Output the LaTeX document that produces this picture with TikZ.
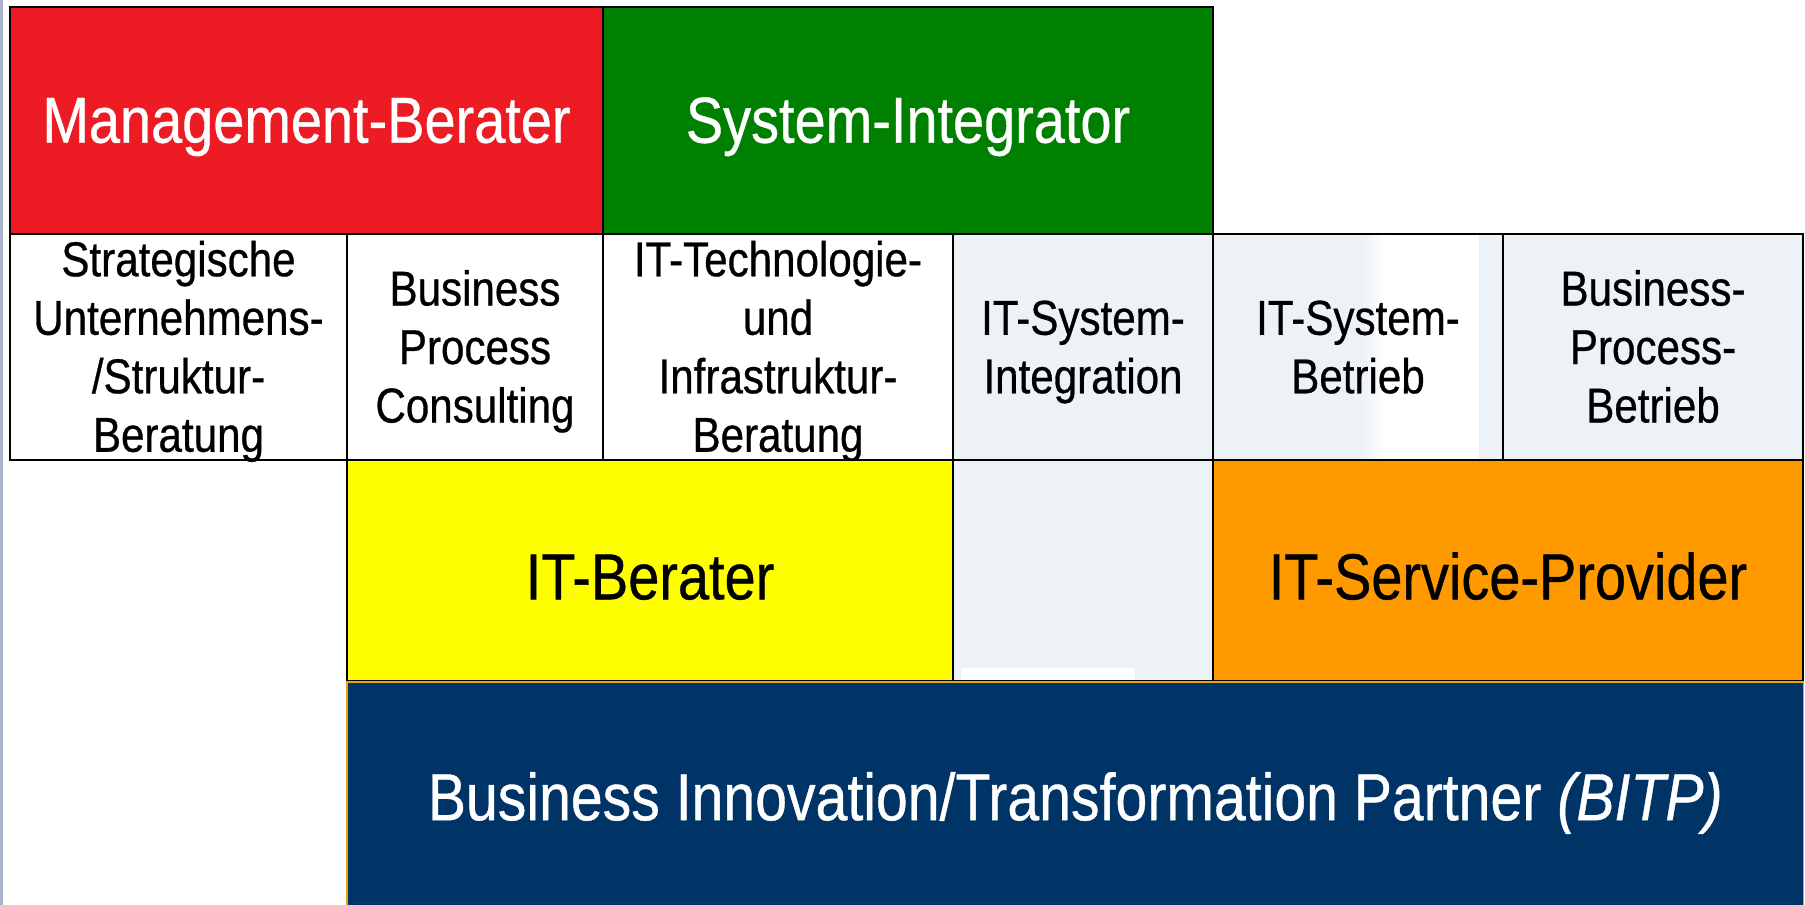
\documentclass[tikz,border=0pt]{standalone}
\usepackage{fontspec}
\setmainfont{Liberation Sans}[FakeStretch=0.86,FakeBold=0.6]
\definecolor{mred}{HTML}{ED1C24}
\definecolor{mgreen}{HTML}{008000}
\definecolor{myellow}{HTML}{FFFF00}
\definecolor{morange}{HTML}{FF9900}
\definecolor{mnavy}{HTML}{003366}
\definecolor{lgray}{HTML}{EDF2F7}
\definecolor{edgeblue}{HTML}{A9B4CC}
\definecolor{navyedge}{HTML}{E8A317}
\tikzset{
  cell/.style={draw=black, line width=2pt, inner sep=0pt, anchor=center, align=center},
  bigtext/.style={font=\fontsize{65}{75}\selectfont, text depth=0pt},
  smalltext/.style={font=\fontsize{49}{58.5}\selectfont, text depth=0pt},
}
\begin{document}
\begin{tikzpicture}[x=1pt,y=-1pt]
\useasboundingbox (0,0) rectangle (1805,905);
\fill[white] (0,0) rectangle (1805,905);
\fill[edgeblue] (0,0) rectangle (2.5,905);
% background fills with artefacts
\fill[lgray] (1213,234) rectangle (1503,460);
\shade[left color=lgray, right color=white] (1362,235) rectangle (1385,459);
\fill[white] (1385,235) rectangle (1479,459);
\fill[lgray] (953,460) rectangle (1213,681);
\fill[white] (961,668) rectangle (1135,680);
% navy bottom band
\node[inner sep=0pt, fill=mnavy, minimum width=1456, minimum height=226, anchor=north west, align=center, bigtext, text height=52pt, text=white, font=\fontsize{66.5}{75}\selectfont] (bitp) at (347,681) {Business Innovation/Transformation Partner \textit{(BITP)}};
\draw[navyedge, line width=1.2pt] (bitp.south west) -- (bitp.north west) -- (bitp.north east) -- (bitp.south east);
% row 1
\node[cell, fill=mred, minimum width=593, minimum height=227, bigtext, text height=44.4pt, text=white] (mb) at (306.5,120.5) {Management-Berater};
\node[cell, fill=mgreen, minimum width=610, minimum height=227, bigtext, text height=44.4pt, text=white] (si) at (908,120.5) {System-Integrator};
% row 2
\node[cell, fill=white, minimum width=337, minimum height=226, smalltext, text height=209.5pt] (c1) at (178.5,347) {Strategische\\Unternehmens-\\/Struktur-\\Beratung};
\node[cell, fill=white, minimum width=256, minimum height=226, smalltext, text height=151pt] (c2) at (475,347) {Business\\Process\\Consulting};
\node[cell, fill=white, minimum width=350, minimum height=226, smalltext, text height=209.5pt] (c3) at (778,347) {IT-Technologie-\\und\\Infrastruktur-\\Beratung};
\node[cell, fill=lgray, minimum width=260, minimum height=226, smalltext, text height=92.5pt] (c4) at (1083,347) {IT-System-\\Integration};
\node[cell, minimum width=290, minimum height=226, smalltext, text height=92.5pt] (c5) at (1358,347) {IT-System-\\Betrieb};
\node[cell, fill=lgray, minimum width=300, minimum height=226, smalltext, text height=151pt] (c6) at (1653,347) {Business-\\Process-\\Betrieb};
% row 3
\node[cell, fill=myellow, minimum width=606, minimum height=221, bigtext, text height=57.6pt] (itb) at (650,570.5) {IT-Berater};
\node[cell, minimum width=260, minimum height=221] (gap) at (1083,570.5) {};
\node[cell, fill=morange, minimum width=590, minimum height=221, bigtext, text height=57.6pt] (isp) at (1508,570.5) {IT-Service-Provider};
\draw[navyedge, line width=1.2pt] (itb.south west) -- (isp.south east);
\end{tikzpicture}
\end{document}
